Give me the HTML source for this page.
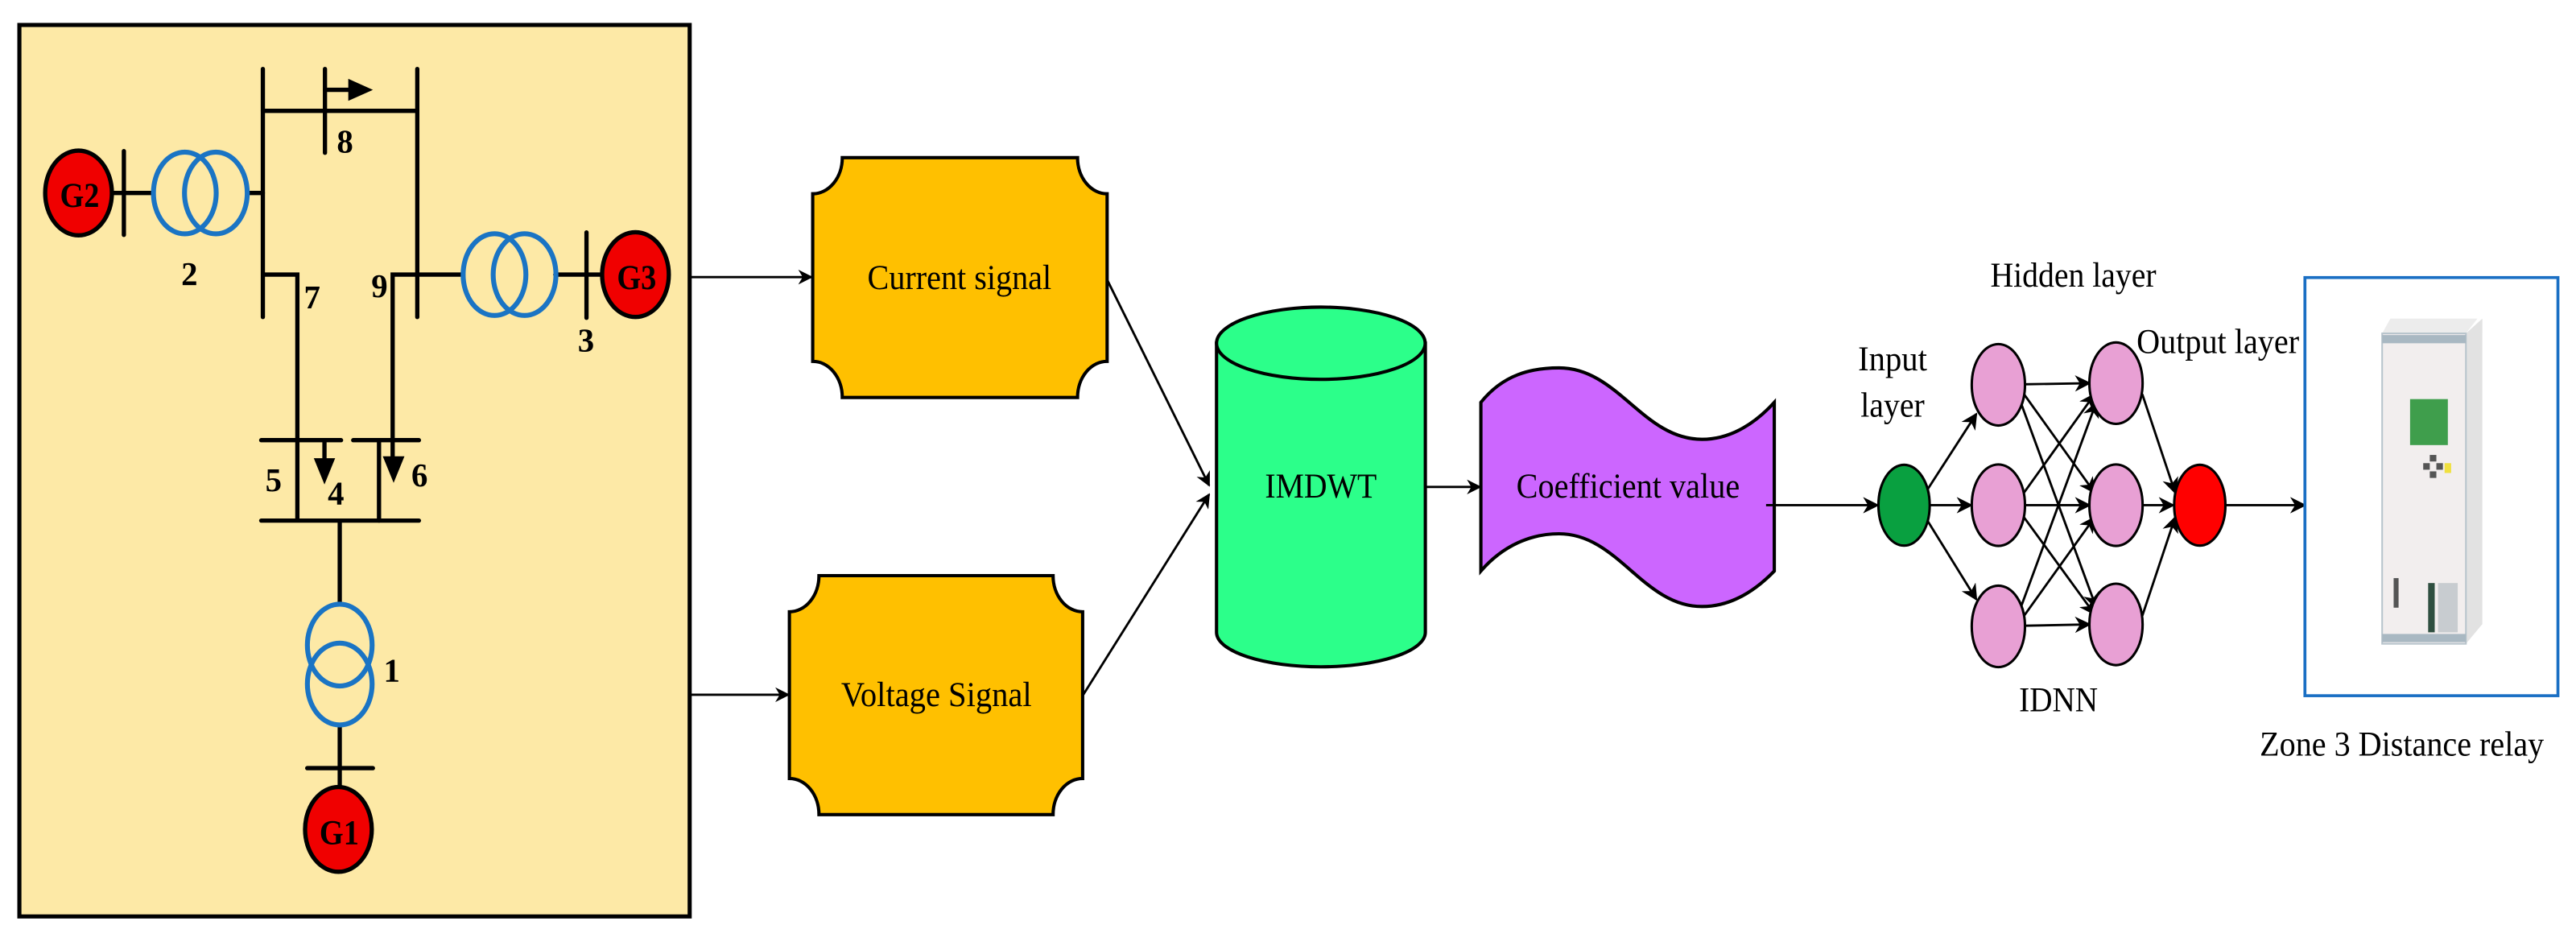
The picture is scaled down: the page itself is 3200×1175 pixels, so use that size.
<!DOCTYPE html>
<html><head><meta charset="utf-8"><style>
html,body{margin:0;padding:0;background:#fff;}
svg{display:block;}
text{font-family:"Liberation Serif",serif;}
</style></head><body>
<svg width="3200" height="1175" viewBox="0 0 1568 576" preserveAspectRatio="none" xmlns="http://www.w3.org/2000/svg">
<defs>
<marker id="a" viewBox="0 0 10 10" refX="9" refY="5" markerWidth="9" markerHeight="9" orient="auto" markerUnits="userSpaceOnUse"><path d="M0,0 L10,5 L0,10 L3,5 Z" fill="#000"/></marker>
<marker id="b" viewBox="0 0 10 10" refX="9" refY="5" markerWidth="10" markerHeight="10" orient="auto" markerUnits="userSpaceOnUse"><path d="M0,0 L10,5 L0,10 L3,5 Z" fill="#000"/></marker>
</defs>
<rect x="11.8" y="15.2" width="408" height="542.8" fill="#fde9a6" stroke="#000" stroke-width="2.5"/>
<g stroke="#000" stroke-width="2.6" fill="none" stroke-linecap="round">
<line x1="160" y1="42" x2="160" y2="193"/>
<line x1="254" y1="42" x2="254" y2="193"/>
<line x1="160" y1="67.5" x2="254" y2="67.5"/>
<line x1="197.8" y1="42" x2="197.8" y2="93"/>
<line x1="197.8" y1="54.7" x2="216" y2="54.7"/>
<line x1="68" y1="117.5" x2="93" y2="117.5"/>
<line x1="75.4" y1="92" x2="75.4" y2="143"/>
<line x1="151" y1="117.5" x2="160" y2="117.5"/>
<polyline points="160,167.2 181,167.2 181,317" stroke-linecap="butt"/>
<polyline points="254,167.2 239,167.2 239,280" stroke-linecap="butt"/>
<line x1="254" y1="167.2" x2="282" y2="167.2"/>
<line x1="338" y1="167.2" x2="366" y2="167.2"/>
<line x1="357" y1="141.5" x2="357" y2="193.5"/>
<line x1="159" y1="268" x2="207.6" y2="268"/>
<line x1="215" y1="268" x2="255" y2="268"/>
<line x1="159" y1="317" x2="255" y2="317"/>
<line x1="230.7" y1="268" x2="230.7" y2="317"/>
<line x1="197.5" y1="268" x2="197.5" y2="281"/>
<line x1="206.8" y1="317" x2="206.8" y2="368"/>
<line x1="206.8" y1="442" x2="206.8" y2="480"/>
<line x1="187" y1="467.7" x2="227" y2="467.7"/>
</g>
<path d="M212,48 L227,54.7 L212,61.4 Z" fill="#000"/>
<path d="M233,277.8 L246.2,277.8 L239.6,294 Z" fill="#000"/>
<path d="M191,279 L204,279 L197.5,295 Z" fill="#000"/>
<g fill="none" stroke="#1a74c4" stroke-width="3">
<ellipse cx="112.5" cy="117.5" rx="19.1" ry="24.9"/>
<ellipse cx="131.4" cy="117.5" rx="19.1" ry="24.9"/>
<ellipse cx="301" cy="167.2" rx="19.1" ry="24.9"/>
<ellipse cx="319.3" cy="167.2" rx="19.1" ry="24.9"/>
<ellipse cx="206.8" cy="392.8" rx="19.7" ry="24.9"/>
<ellipse cx="206.8" cy="416.5" rx="19.7" ry="24.9"/>
</g>
<g fill="#f00000" stroke="#000" stroke-width="2.6">
<ellipse cx="47.8" cy="117.5" rx="20.3" ry="25.8"/>
<ellipse cx="386.8" cy="167.2" rx="20.3" ry="25.8"/>
<ellipse cx="206" cy="505" rx="20.3" ry="25.8"/>
</g>
<g font-weight="bold" font-size="21" text-anchor="middle" lengthAdjust="spacingAndGlyphs">
<text x="48.5" y="126" textLength="24" lengthAdjust="spacingAndGlyphs">G2</text>
<text x="387.5" y="176" textLength="24" lengthAdjust="spacingAndGlyphs">G3</text>
<text x="206.5" y="514" textLength="24" lengthAdjust="spacingAndGlyphs">G1</text>
</g>
<g font-weight="bold" font-size="20" text-anchor="middle">
<text x="210" y="93">8</text>
<text x="115.3" y="173.5">2</text>
<text x="190" y="187.7">7</text>
<text x="231" y="181">9</text>
<text x="356.7" y="214">3</text>
<text x="166.5" y="299">5</text>
<text x="204.5" y="307">4</text>
<text x="255.4" y="296">6</text>
<text x="238.5" y="415">1</text>
</g>
<g stroke="#000" stroke-width="1.4" fill="none">
<line x1="420" y1="168.7" x2="494" y2="168.7" marker-end="url(#a)"/>
<line x1="420" y1="423" x2="480" y2="423" marker-end="url(#a)"/>
<line x1="674" y1="170.5" x2="736" y2="295.6" marker-end="url(#a)"/>
<line x1="659" y1="423.6" x2="736" y2="301" marker-end="url(#a)"/>
<line x1="867.6" y1="296.5" x2="901" y2="296.5" marker-end="url(#a)"/>
</g>
<path d="M512.7,96 L655.9,96 A18,22 0 0 0 673.9,118 L673.9,220 A18,22 0 0 0 655.9,242 L512.7,242 A18,22 0 0 0 494.7,220 L494.7,118 A18,22 0 0 0 512.7,96 Z" fill="#ffc000" stroke="#000" stroke-width="2"/>
<path d="M498.5,350.5 L641,350.5 A18,22 0 0 0 659,372.5 L659,474 A18,22 0 0 0 641,496 L498.5,496 A18,22 0 0 0 480.5,474 L480.5,372.5 A18,22 0 0 0 498.5,350.5 Z" fill="#ffc000" stroke="#000" stroke-width="2"/>
<text x="584" y="176" font-size="21" text-anchor="middle" textLength="112" lengthAdjust="spacingAndGlyphs">Current signal</text>
<text x="570" y="430" font-size="21" text-anchor="middle" textLength="116" lengthAdjust="spacingAndGlyphs">Voltage Signal</text>
<path d="M740.5,209 L740.5,385 A63.5,21 0 0 0 867.6,385 L867.6,209 Z" fill="#2cff8a" stroke="#000" stroke-width="2"/>
<ellipse cx="804" cy="209" rx="63.5" ry="22" fill="#2cff8a" stroke="#000" stroke-width="2"/>
<text x="804" y="303" font-size="21" text-anchor="middle" textLength="68" lengthAdjust="spacingAndGlyphs">IMDWT</text>
<path d="M901.4,245 C915,228 932,224 949,224 C985,224 1000,267.5 1036,267.5 C1055,267.5 1070,256 1080,245 L1080,347.7 C1070,358 1055,369.3 1036,369.3 C1000,369.3 985,325 949,325 C932,325 915,332 901.4,347.7 Z" fill="#cc66ff" stroke="#000" stroke-width="2"/>
<text x="991" y="303" font-size="21" text-anchor="middle" textLength="136" lengthAdjust="spacingAndGlyphs">Coefficient value</text>
<g stroke="#000" stroke-width="1.4" fill="none">
<line x1="1075" y1="307.6" x2="1143" y2="307.6" marker-end="url(#b)"/>
<line x1="1174" y1="307.6" x2="1200" y2="307.6" marker-end="url(#b)"/>
<line x1="1172" y1="300" x2="1203" y2="252" marker-end="url(#b)"/>
<line x1="1172" y1="315" x2="1203" y2="365" marker-end="url(#b)"/>
<line x1="1232" y1="234" x2="1272" y2="233.3" marker-end="url(#b)"/>
<line x1="1232" y1="240" x2="1275" y2="300" marker-end="url(#b)"/>
<line x1="1230" y1="245" x2="1276" y2="370" marker-end="url(#b)"/>
<line x1="1232" y1="300" x2="1275" y2="240" marker-end="url(#b)"/>
<line x1="1232" y1="307.6" x2="1272" y2="307.6" marker-end="url(#b)"/>
<line x1="1232" y1="315" x2="1275" y2="374" marker-end="url(#b)"/>
<line x1="1230" y1="370" x2="1276" y2="245" marker-end="url(#b)"/>
<line x1="1232" y1="375" x2="1275" y2="315" marker-end="url(#b)"/>
<line x1="1232" y1="381" x2="1272" y2="380.2" marker-end="url(#b)"/>
<line x1="1304" y1="240" x2="1324" y2="300" marker-end="url(#b)"/>
<line x1="1304" y1="307.6" x2="1323" y2="307.6" marker-end="url(#b)"/>
<line x1="1304" y1="375" x2="1324" y2="315" marker-end="url(#b)"/>
<line x1="1355" y1="307.6" x2="1403" y2="307.6" marker-end="url(#b)"/>
</g>
<ellipse cx="1159" cy="307.6" rx="15.6" ry="24.6" fill="#09a040" stroke="#000" stroke-width="1.5"/>
<g fill="#e8a0d4" stroke="#000" stroke-width="1.5">
<ellipse cx="1216.4" cy="234.3" rx="16.2" ry="24.8"/>
<ellipse cx="1216.4" cy="307.6" rx="16.2" ry="24.8"/>
<ellipse cx="1216.4" cy="381.4" rx="16.2" ry="24.8"/>
<ellipse cx="1288" cy="233.3" rx="16.2" ry="24.8"/>
<ellipse cx="1288" cy="307.6" rx="16.2" ry="24.8"/>
<ellipse cx="1288" cy="380.2" rx="16.2" ry="24.8"/>
</g>
<ellipse cx="1339" cy="307.6" rx="15.6" ry="24.6" fill="#ff0000" stroke="#000" stroke-width="1.5"/>
<g font-size="21" text-anchor="middle">
<text x="1262" y="174.5" textLength="101" lengthAdjust="spacingAndGlyphs">Hidden layer</text>
<text x="1152" y="225.6" textLength="42" lengthAdjust="spacingAndGlyphs">Input</text>
<text x="1152" y="253.7" textLength="39" lengthAdjust="spacingAndGlyphs">layer</text>
<text x="1350" y="215" textLength="99" lengthAdjust="spacingAndGlyphs">Output layer</text>
<text x="1253" y="433" textLength="48" lengthAdjust="spacingAndGlyphs">IDNN</text>
<text x="1462" y="460" textLength="173" lengthAdjust="spacingAndGlyphs">Zone 3 Distance relay</text>
</g>
<rect x="1403" y="169" width="154" height="254.6" fill="#fff" stroke="#1a6fc4" stroke-width="1.8"/>
<path d="M1450,203 L1455,194 L1508,194 L1501,203 Z" fill="#ececec"/>
<path d="M1501,203 L1511,194 L1511,380 L1501,392 Z" fill="#e2e2e2"/>
<rect x="1450" y="203" width="51" height="189" fill="#f2eeee" stroke="#b8c4cc" stroke-width="1"/>
<rect x="1450" y="204" width="51" height="5" fill="#a9b8c2"/>
<rect x="1450" y="386" width="51" height="5" fill="#a9b8c2"/>
<rect x="1467" y="243" width="23" height="28" fill="#3f9e4c"/>
<rect x="1479" y="277" width="4" height="4" fill="#555"/>
<rect x="1475" y="282" width="4" height="4" fill="#555"/>
<rect x="1483" y="282" width="4" height="4" fill="#555"/>
<rect x="1479" y="287" width="4" height="4" fill="#555"/>
<rect x="1488" y="282" width="4" height="6" fill="#f0e040"/>
<rect x="1478" y="355" width="4" height="30" fill="#2f4f40"/>
<rect x="1484" y="355" width="12" height="30" fill="#c8ccd0"/>
<rect x="1457" y="352" width="3" height="18" fill="#555"/>
</svg>
</body></html>
